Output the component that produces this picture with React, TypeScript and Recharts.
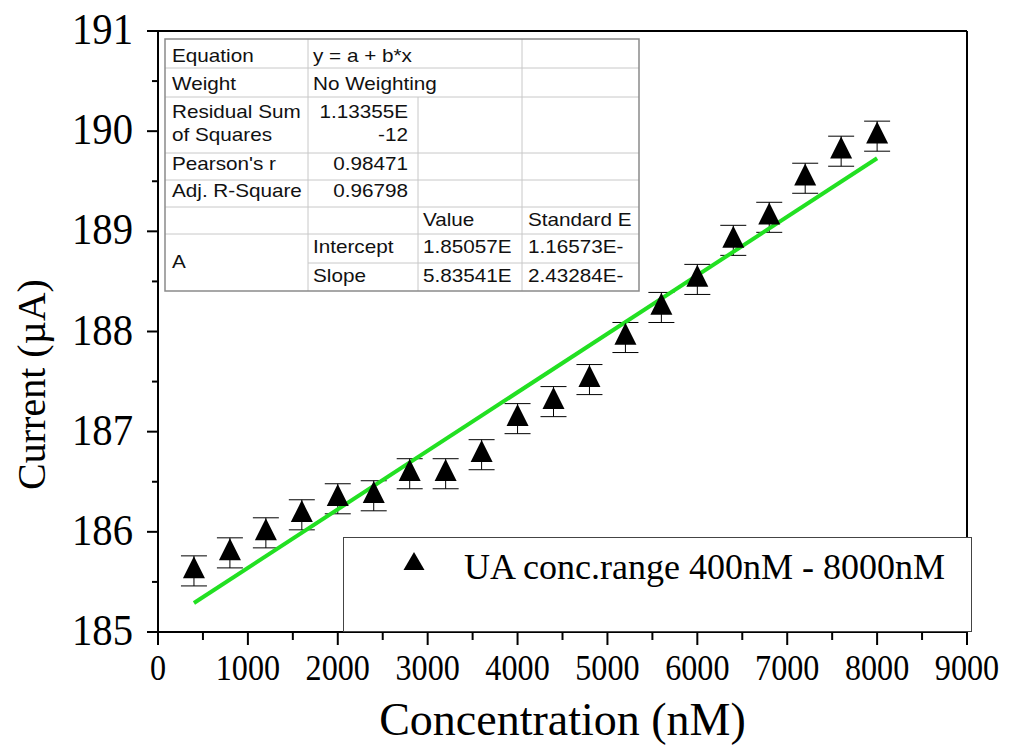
import React from 'react';
import {
  ScatterChart, Scatter, XAxis, YAxis, ErrorBar, ReferenceLine, Legend,
} from 'recharts';

const concentration = [400, 800, 1200, 1600, 2000, 2400, 2800, 3200, 3600, 4000, 4400, 4800, 5200, 5600, 6000, 6400, 6800, 7200, 7600, 8000];
const current = [185.61, 185.79, 185.99, 186.17, 186.33, 186.36, 186.58, 186.58, 186.77, 187.13, 187.3, 187.52, 187.94, 188.24, 188.52, 188.91, 189.14, 189.53, 189.8, 189.95];
const currentErr = [0.15, 0.15, 0.15, 0.15, 0.15, 0.15, 0.15, 0.15, 0.15, 0.15, 0.15, 0.15, 0.15, 0.15, 0.15, 0.15, 0.15, 0.15, 0.15, 0.15];

const fitX = [400, 8000];
const fitY = [185.29, 189.73];

const xTicks = [0, 500, 1000, 1500, 2000, 2500, 3000, 3500, 4000, 4500, 5000, 5500, 6000, 6500, 7000, 7500, 8000, 8500, 9000];
const yTicks = [185, 185.5, 186, 186.5, 187, 187.5, 188, 188.5, 189, 189.5, 190, 190.5, 191];

const seriesName = 'UA conc.range 400nM - 8000nM';

// fit report table (Origin style)
const tableCols = [165, 308, 418, 522, 639];
const tableRowsY = [39, 68, 97, 153, 180, 207, 234, 263, 291];
const tableText: [string, number, number, 'start' | 'end'][] = [
  ['Equation', 172, 62, 'start'],
  ['y = a + b*x', 313, 62, 'start'],
  ['Weight', 172, 90, 'start'],
  ['No Weighting', 313, 90, 'start'],
  ['Residual Sum', 172, 118, 'start'],
  ['of Squares', 172, 141, 'start'],
  ['1.13355E', 408, 118, 'end'],
  ['-12', 408, 141, 'end'],
  ["Pearson's r", 172, 170, 'start'],
  ['0.98471', 408, 170, 'end'],
  ['Adj. R-Square', 172, 197, 'start'],
  ['0.96798', 408, 197, 'end'],
  ['Value', 423, 226, 'start'],
  ['Standard E', 528, 226, 'start'],
  ['A', 172, 268, 'start'],
  ['Intercept', 313, 253, 'start'],
  ['1.85057E', 423, 253, 'start'],
  ['1.16573E-', 528, 253, 'start'],
  ['Slope', 313, 282, 'start'],
  ['5.83541E', 423, 282, 'start'],
  ['2.43284E-', 528, 282, 'start'],
];

const points = concentration.map((x, i) => ({ x, y: current[i], err: currentErr[i] }));
const fitLine = fitX.map((x, i) => ({ x, y: fitY[i] }));

const SERIF = '"Liberation Serif", "Times New Roman", serif';
const SANS = '"Liberation Sans", Arial, sans-serif';

const Triangle = (props: any) => {
  const { cx, cy } = props;
  if (cx == null || cy == null) return null;
  return <path d={`M${cx},${cy - 14.7} L${cx + 11},${cy + 7.3} L${cx - 11},${cy + 7.3} Z`} fill="#000" />;
};

const XTick = (props: any) => {
  const { x, y, payload } = props;
  const major = payload.value % 1000 === 0;
  return (
    <g>
      <line x1={x} x2={x} y1={y} y2={y + (major ? 13 : 8)} stroke="#000" strokeWidth={2} />
      {major && (
        <text x={0} y={0} transform={`translate(${x},${y + 48}) scale(0.92,1)`} textAnchor="middle"
          fontFamily={SERIF} fontSize={35} fill="#000">
          {payload.value}
        </text>
      )}
    </g>
  );
};

const YTick = (props: any) => {
  const { x, y, payload } = props;
  const major = Number.isInteger(payload.value);
  return (
    <g>
      <line x1={x} x2={x - (major ? 11 : 6)} y1={y} y2={y} stroke="#000" strokeWidth={2} />
      {major && (
        <text x={x - 25} y={y + 13} textAnchor="end" fontFamily={SERIF} fontSize={44}
          textLength={61} lengthAdjust="spacingAndGlyphs" fill="#000">
          {payload.value}
        </text>
      )}
    </g>
  );
};

const LegendBox = () => (
  <div style={{ width: 629, height: 95, boxSizing: 'border-box', border: '1px solid #444', background: '#fff' }}>
    <svg width={627} height={93}>
      <path d="M70,14 L80.5,32 L59.5,32 Z" fill="#000" />
      <text x={120} y={41} fontFamily={SERIF} fontSize={36} fill="#000">{seriesName}</text>
    </svg>
  </div>
);

const FitTable = () => {
  const [x0, , x2, , x4] = tableCols;
  const top = tableRowsY[0];
  const bottom = tableRowsY[tableRowsY.length - 1];
  return (
    <svg width={1012} height={747} style={{ position: 'absolute', left: 0, top: 0, pointerEvents: 'none' }}>
      <rect x={x0} y={top} width={x4 - x0} height={bottom - top} fill="#fff" />
      {tableRowsY.slice(1, -1).map((y, i) => (
        <line key={`h${i}`} x1={y === 263 ? tableCols[1] : x0} x2={x4} y1={y} y2={y} stroke="#c8c8c8" strokeWidth={1} />
      ))}
      <line x1={tableCols[1]} x2={tableCols[1]} y1={top} y2={bottom} stroke="#c8c8c8" />
      <line x1={tableCols[3]} x2={tableCols[3]} y1={top} y2={bottom} stroke="#c8c8c8" />
      <line x1={x2} x2={x2} y1={tableRowsY[2]} y2={bottom} stroke="#c8c8c8" />
      <rect x={x0} y={top} width={x4 - x0} height={bottom - top} fill="none" stroke="#8a8a8a" strokeWidth={1.5} />
      {tableText.map(([t, x, y, anchor], i) => (
        <text key={i} x={0} y={0} transform={`translate(${x},${y}) scale(1.15,1)`} textAnchor={anchor}
          fontFamily={SANS} fontSize={18} fill="#111">{t}</text>
      ))}
    </svg>
  );
};

export default function App() {
  return (
    <div style={{ position: 'absolute', left: 0, top: 0, width: 1012, height: 747, background: '#fff' }}>
      <ScatterChart width={1012} height={747} margin={{ top: 31, right: 45, left: 0, bottom: 0 }}>
        <XAxis
          type="number" dataKey="x" domain={[0, 9000]} ticks={xTicks} interval={0}
          height={115} tickSize={0} tickMargin={0} tickLine={false} tick={<XTick />}
          axisLine={{ stroke: '#000', strokeWidth: 2 }}
          label={(p: any) => (
            <text x={p.viewBox.x + p.viewBox.width / 2} y={p.viewBox.y + 103} textAnchor="middle"
              fontFamily={SERIF} fontSize={46} fill="#000">Concentration (nM)</text>
          )}
        />
        <YAxis
          type="number" dataKey="y" domain={[185, 191]} ticks={yTicks} interval={0}
          width={158} tickSize={0} tickMargin={0} tickLine={false} tick={<YTick />}
          axisLine={{ stroke: '#000', strokeWidth: 2 }}
          label={(p: any) => {
            const cy = p.viewBox.y + p.viewBox.height / 2 + 53;
            return (
              <text x={45} y={cy} transform={`rotate(-90, 45, ${cy})`} textAnchor="middle"
                fontFamily={SERIF} fontSize={40} fill="#000">Current (µA)</text>
            );
          }}
        />
        <ReferenceLine y={191} stroke="#000" strokeWidth={2} ifOverflow="visible" />
        <ReferenceLine x={9000} stroke="#000" strokeWidth={2} ifOverflow="visible" />
        <Scatter name="fit" data={fitLine} line={{ stroke: '#22e022', strokeWidth: 4 }}
          shape={() => null} isAnimationActive={false} legendType="none" />
        <Scatter name={seriesName} data={points} shape={<Triangle />} isAnimationActive={false}>
          <ErrorBar dataKey="err" direction="y" width={13} stroke="#000" strokeWidth={1} />
        </Scatter>
        <Legend layout="horizontal" verticalAlign="middle" align="center" content={<LegendBox />}
          wrapperStyle={{ left: 343, top: 537, width: 629, height: 95 }} />
      </ScatterChart>
      <FitTable />
    </div>
  );
}
